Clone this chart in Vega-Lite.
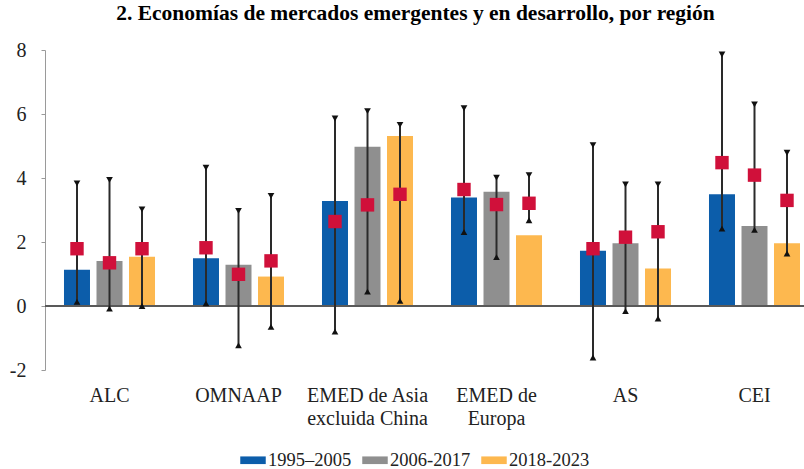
{
  "$schema": "https://vega.github.io/schema/vega-lite/v6.json",
  "width": 759,
  "height": 320,
  "autosize": {"type": "none"},
  "padding": {"left": 45, "top": 50, "right": 0, "bottom": 99},
  "background": "white",
  "title": {
    "text": "2. Economías de mercados emergentes y en desarrollo, por región",
    "font": "Liberation Serif",
    "fontWeight": "bold",
    "fontSize": 21.5,
    "color": "#000000",
    "anchor": "middle",
    "dx": -9,
    "offset": 16
  },
  "config": {
    "view": {"stroke": null},
    "axis": {"labelFont": "Liberation Serif", "labelFontSize": 20, "labelColor": "#222222", "grid": false},
    "legend": {"labelFont": "Liberation Serif", "labelFontSize": 18.5, "labelColor": "#222222"}
  },
  "data": {
    "values": [
      {"region": "ALC", "period": "1995–2005", "bar": 1.13, "mark": 1.79, "lo": 0.13, "hi": 3.83},
      {"region": "ALC", "period": "2006-2017", "bar": 1.41, "mark": 1.35, "lo": -0.08, "hi": 3.94},
      {"region": "ALC", "period": "2018-2023", "bar": 1.54, "mark": 1.79, "lo": 0.0, "hi": 3.02},
      {"region": "OMNAAP", "period": "1995–2005", "bar": 1.49, "mark": 1.82, "lo": 0.08, "hi": 4.32},
      {"region": "OMNAAP", "period": "2006-2017", "bar": 1.29, "mark": 0.99, "lo": -1.23, "hi": 2.97},
      {"region": "OMNAAP", "period": "2018-2023", "bar": 0.92, "mark": 1.41, "lo": -0.65, "hi": 3.44},
      {"region": "EMED de Asia|excluida China", "period": "1995–2005", "bar": 3.28, "mark": 2.64, "lo": -0.8, "hi": 5.86},
      {"region": "EMED de Asia|excluida China", "period": "2006-2017", "bar": 4.98, "mark": 3.16, "lo": 0.45, "hi": 6.09},
      {"region": "EMED de Asia|excluida China", "period": "2018-2023", "bar": 5.31, "mark": 3.49, "lo": 0.16, "hi": 5.66},
      {"region": "EMED de|Europa", "period": "1995–2005", "bar": 3.39, "mark": 3.64, "lo": 2.31, "hi": 6.18},
      {"region": "EMED de|Europa", "period": "2006-2017", "bar": 3.57, "mark": 3.17, "lo": 1.53, "hi": 4.01},
      {"region": "EMED de|Europa", "period": "2018-2023", "bar": 2.21, "mark": 3.21, "lo": 2.68, "hi": 4.09},
      {"region": "AS", "period": "1995–2005", "bar": 1.73, "mark": 1.79, "lo": -1.61, "hi": 5.03},
      {"region": "AS", "period": "2006-2017", "bar": 1.96, "mark": 2.15, "lo": -0.16, "hi": 3.8},
      {"region": "AS", "period": "2018-2023", "bar": 1.17, "mark": 2.32, "lo": -0.39, "hi": 3.8},
      {"region": "CEI", "period": "1995–2005", "bar": 3.49, "mark": 4.48, "lo": 2.42, "hi": 7.86},
      {"region": "CEI", "period": "2006-2017", "bar": 2.5, "mark": 4.09, "lo": 2.38, "hi": 6.3},
      {"region": "CEI", "period": "2018-2023", "bar": 1.96, "mark": 3.3, "lo": 1.64, "hi": 4.79}
    ]
  },
  "encoding": {
    "x": {
      "field": "region",
      "type": "nominal",
      "sort": null,
      "scale": {"range": [0, 774], "paddingInner": 0.244, "paddingOuter": 0.122},
      "axis": {
        "title": null,
        "labelAngle": 0,
        "domain": false,
        "ticks": false,
        "labelPadding": 15,
        "labelLineHeight": 23,
        "labelExpr": "split(datum.label, '|')"
      }
    },
    "xOffset": {
      "field": "period",
      "type": "nominal",
      "sort": null,
      "scale": {"paddingInner": 0.2, "paddingOuter": 0.1}
    }
  },
  "layer": [
    {
      "mark": {"type": "bar"},
      "encoding": {
        "y": {
          "field": "bar",
          "type": "quantitative",
          "scale": {"domain": [-2, 8], "nice": false, "zero": false},
          "axis": {
            "title": null,
            "values": [-2, 0, 2, 4, 6, 8],
            "labelExpr": "'' + datum.value",
            "domainColor": "#9a9a9a",
            "tickColor": "#9a9a9a",
            "tickSize": 4,
            "labelPadding": 15
          }
        },
        "y2": {"datum": 0},
        "color": {
          "field": "period",
          "type": "nominal",
          "sort": null,
          "scale": {"range": ["#0C5DAA", "#8F8F8F", "#FDB84F"]},
          "legend": {
            "title": null,
            "orient": "none",
            "legendX": 195,
            "legendY": 397,
            "direction": "horizontal",
            "symbolType": "M-1,-0.3H1V0.3H-1Z",
            "symbolSize": 650,
            "symbolStrokeWidth": 0,
            "labelOffset": 2,
            "columnPadding": 10
          }
        }
      }
    },
    {
      "mark": {"type": "rule", "color": "#5a5a5a", "strokeWidth": 1.5},
      "encoding": {"y": {"datum": 0}, "x": null, "xOffset": null}
    },
    {
      "mark": {"type": "rule", "color": "#2a2a2a", "strokeWidth": 2},
      "encoding": {"y": {"field": "lo", "type": "quantitative"}, "y2": {"field": "hi"}}
    },
    {
      "mark": {"type": "point", "shape": "triangle-down", "filled": true, "color": "#111111", "size": 45, "opacity": 1},
      "encoding": {"y": {"field": "hi", "type": "quantitative"}}
    },
    {
      "mark": {"type": "point", "shape": "triangle-up", "filled": true, "color": "#111111", "size": 45, "opacity": 1},
      "encoding": {"y": {"field": "lo", "type": "quantitative"}}
    },
    {
      "mark": {"type": "square", "color": "#D0103A", "size": 180, "opacity": 1},
      "encoding": {"y": {"field": "mark", "type": "quantitative"}}
    }
  ]
}
